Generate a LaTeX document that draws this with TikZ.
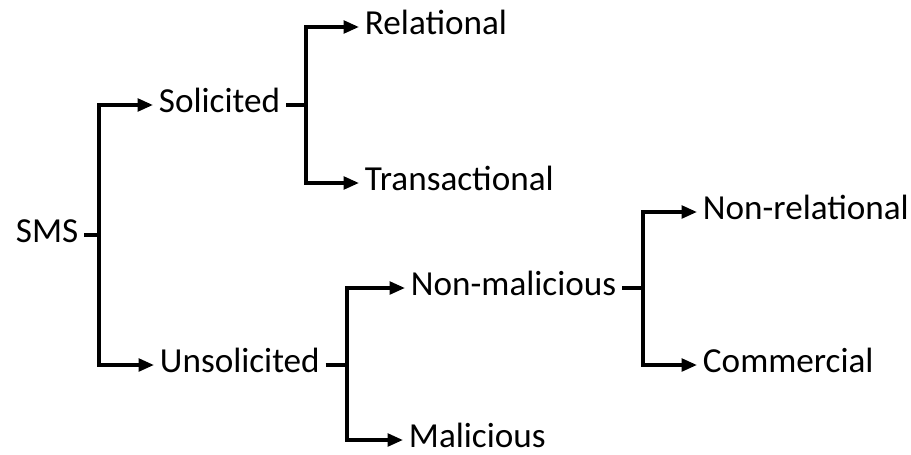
\documentclass[tikz,border=0pt]{standalone}
\usepackage{fontspec}
\setmainfont{Carlito}
\usetikzlibrary{arrows.meta}

\begin{document}
\begin{tikzpicture}[x=0.025cm, y=-0.025cm, line width=2.5pt,
    class/.style = {anchor=west, inner xsep=3pt, inner ysep=0pt,
      text height=11pt, text depth=0pt, font=\fontsize{25}{30}\selectfont},
    branch/.style = {-{Triangle[length=11pt,width=9pt]}}]
    \useasboundingbox (0,0) rectangle (911,454);

    \node[class] (sms)    at (10,235)  {SMS};
    \node[class] (sol)    at (153,105) {Solicited};
    \node[class] (unsol)  at (154,365) {Unsolicited};
    \node[class] (rel)    at (359,27)  {Relational};
    \node[class] (trans)  at (359,183) {Transactional};
    \node[class] (nonmal) at (405,288) {Non-malicious};
    \node[class] (mal)    at (403,440) {Malicious};
    \node[class] (nonrel) at (697,212) {Non-relational};
    \node[class] (comm)   at (697,365) {Commercial};

    % junctions
    \coordinate (j1) at (99,235);
    \coordinate (j2) at (306,105);
    \coordinate (j3) at (347,365);
    \coordinate (j4) at (643,288);

    \draw (sms.east) -- (j1);
    \draw[branch] (j1) |- (sol.west);
    \draw[branch] (j1) |- (unsol.west);

    \draw (sol.east) -- (j2);
    \draw[branch] (j2) |- (rel.west);
    \draw[branch] (j2) |- (trans.west);

    \draw (unsol.east) -- (j3);
    \draw[branch] (j3) |- (nonmal.west);
    \draw[branch] (j3) |- (mal.west);

    \draw (nonmal.east) -- (j4);
    \draw[branch] (j4) |- (nonrel.west);
    \draw[branch] (j4) |- (comm.west);
  \end{tikzpicture}
\end{document}
